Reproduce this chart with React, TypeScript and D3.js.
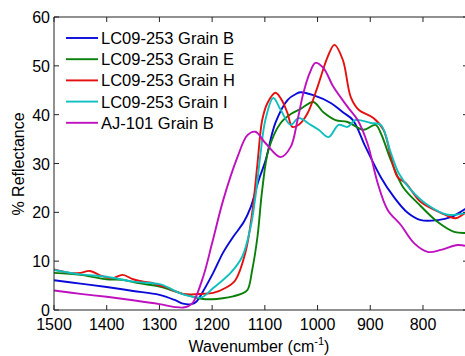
import React from "react";
import * as d3 from "d3";

type P = [number, number];

const seriesNames = [
  "LC09-253 Grain B",
  "LC09-253 Grain E",
  "LC09-253 Grain H",
  "LC09-253 Grain I",
  "AJ-101 Grain B",
];
const seriesColors = ["#0a0ad8", "#0a800a", "#e41010", "#10bfbf", "#bf10bf"];

const grainB: P[] = [
  [1500, 6.1], [1450, 5.4], [1400, 4.7], [1350, 3.9], [1300, 3.1], [1270, 2.0], [1255, 1.3],
  [1240, 1.2], [1230, 1.7], [1219, 3.5], [1198, 7.6], [1179, 11.8], [1160, 15], [1140, 18],
  [1127, 21], [1112, 26.5], [1099, 30.5], [1080, 38.3], [1057, 43], [1040, 44.3], [1032, 44.6],
  [1008, 44], [975, 42.4], [952, 40.5], [933, 38.9], [909, 33.4], [880, 27.2], [855, 23.1],
  [829, 19.9], [804, 18.4], [772, 18.4], [747, 19], [730, 20], [715, 21],
];
const grainE: P[] = [
  [1500, 7.6], [1450, 7.2], [1400, 6.3], [1370, 6.2], [1340, 5.5], [1300, 4.8], [1270, 3.8],
  [1250, 3.1], [1220, 2.3], [1200, 2.2], [1180, 2.4], [1160, 2.8], [1145, 3.3], [1133, 4.1],
  [1124, 8.2], [1114, 15], [1105, 24.6], [1093, 32.8], [1070, 38.3], [1050, 40.2], [1032, 41.2],
  [1008, 42.6], [989, 40.5], [966, 38.9], [943, 38.5], [913, 36.9], [890, 37.9], [880, 36.2],
  [861, 30.7], [838, 25.2], [810, 21.9], [772, 18], [741, 16], [715, 15.8],
];
const grainH: P[] = [
  [1500, 8.3], [1470, 7.6], [1450, 7.6], [1432, 8.0], [1410, 7.0], [1390, 6.5], [1370, 7.2],
  [1350, 6.3], [1330, 5.8], [1316, 5.6], [1300, 5.0], [1285, 4.6], [1270, 3.8], [1255, 3.3],
  [1240, 3.2], [1220, 3.3], [1198, 3.5], [1175, 4.5], [1156, 6.1], [1137, 11.7], [1124, 19.9],
  [1114, 30], [1105, 38.9], [1095, 42.4], [1080, 44.5], [1068, 43], [1057, 40.3], [1048, 37.5],
  [1035, 38], [1019, 40.3], [1000, 45.7], [981, 51.8], [968, 54.3], [952, 51.2], [937, 43.6],
  [922, 41], [894, 39.3], [875, 36.9], [860, 31], [848, 27.2], [833, 26], [804, 22.1],
  [766, 19.9], [738, 18.8], [725, 19.5], [715, 20.2],
];
const grainI: P[] = [
  [1500, 8.2], [1450, 7.3], [1400, 6.8], [1350, 5.8], [1300, 5.3], [1285, 4.7], [1260, 3.4],
  [1240, 2.8], [1220, 2.6], [1198, 4.5], [1165, 7.6], [1143, 10.9], [1127, 17], [1118, 23.1],
  [1108, 32.2], [1099, 38.9], [1084, 43.4], [1070, 41], [1051, 37.9], [1036, 39.3], [1013, 37.9],
  [998, 36.9], [979, 35.4], [960, 37.9], [943, 37.5], [928, 38.9], [899, 38.3], [880, 37.9],
  [861, 32.2], [846, 28], [823, 24.6], [791, 21.5], [753, 19.5], [715, 20],
];
const ajGrainB: P[] = [
  [1500, 4.0], [1450, 3.3], [1400, 2.7], [1350, 2.0], [1300, 1.2], [1270, 0.6], [1255, 0.5],
  [1245, 0.8], [1236, 1.6], [1217, 6.8], [1200, 13.7], [1179, 22.5], [1152, 31.3], [1133, 35.8],
  [1118, 36.5], [1099, 34.2], [1070, 31.3], [1051, 33.4], [1038, 38.9], [1027, 44.4], [1015, 48.5],
  [1004, 50.6], [989, 49.6], [970, 45.7], [943, 41.6], [924, 38.9], [905, 34], [886, 26],
  [867, 20.5], [842, 17.4], [817, 13.7], [791, 11.9], [766, 12.3], [734, 13.3], [715, 13],
];
const allSeries = [grainB, grainE, grainH, grainI, ajGrainB];

const xTicks = [1500, 1400, 1300, 1200, 1100, 1000, 900, 800];
const yTicks = [0, 10, 20, 30, 40, 50, 60];

const W = 465;
const H = 356;
const left = 54;
const right = 468;
const top = 17;
const bottom = 310;
const font = "Arial, 'Liberation Sans', sans-serif";

export default function App() {
  const x = d3.scaleLinear().domain([1500, 714.6]).range([left, right]);
  const y = d3.scaleLinear().domain([0, 60]).range([bottom, top]);
  const line = d3
    .line<P>()
    .x((d) => x(d[0]))
    .y((d) => y(d[1]))
    .curve(d3.curveCatmullRom.alpha(0.5));
  const tick = 5;
  return (
    <svg
      width={W}
      height={H}
      style={{ position: "absolute", left: 0, top: 0, background: "#fff" }}
      fontFamily={font}
    >
      <defs>
        <clipPath id="plot">
          <rect x={left} y={top} width={right - left} height={bottom - top} />
        </clipPath>
      </defs>
      <rect width={W} height={H} fill="#fff" />
      <g clipPath="url(#plot)">
        {allSeries.map((s, i) => (
          <path key={i} d={line(s) || ""} fill="none" stroke={seriesColors[i]} strokeWidth={1.9} />
        ))}
      </g>
      <g stroke="#222" strokeWidth={1} fill="none">
        <line x1={left} x2={right} y1={bottom} y2={bottom} />
        <line x1={left} x2={right} y1={top} y2={top} />
        <line x1={left} x2={left} y1={top} y2={bottom} />
        <line x1={right} x2={right} y1={top} y2={bottom} />
        {xTicks.map((t) => (
          <g key={"xt" + t}>
            <line x1={x(t)} x2={x(t)} y1={bottom} y2={bottom - tick} />
            <line x1={x(t)} x2={x(t)} y1={top} y2={top + tick} />
          </g>
        ))}
        {yTicks.map((t) => (
          <g key={"yt" + t}>
            <line x1={left} x2={left + tick} y1={y(t)} y2={y(t)} />
            <line x1={right} x2={right - tick} y1={y(t)} y2={y(t)} />
          </g>
        ))}
      </g>
      <g fontSize={16} fill="#000">
        {xTicks.map((t) => (
          <text key={"xl" + t} x={x(t)} y={330} textAnchor="middle">
            {t}
          </text>
        ))}
        {yTicks.map((t) => (
          <text key={"yl" + t} x={50} y={y(t) + 6} textAnchor="end">
            {t}
          </text>
        ))}
        <text x={259} y={352} textAnchor="middle">
          Wavenumber (cm
          <tspan fontSize={11} dy={-7}>-1</tspan>
          <tspan dy={7}>)</tspan>
        </text>
        <text transform="translate(24,164) rotate(-90)" textAnchor="middle">
          % Reflectance
        </text>
      </g>
      <g>
        {seriesNames.map((n, i) => {
          const ly = 38 + i * 21.2;
          return (
            <g key={n}>
              <line x1={66} x2={98} y1={ly} y2={ly} stroke={seriesColors[i]} strokeWidth={1.9} />
              <text x={101} y={ly + 6} fontSize={16.5} fill="#000">
                {n}
              </text>
            </g>
          );
        })}
      </g>
    </svg>
  );
}
